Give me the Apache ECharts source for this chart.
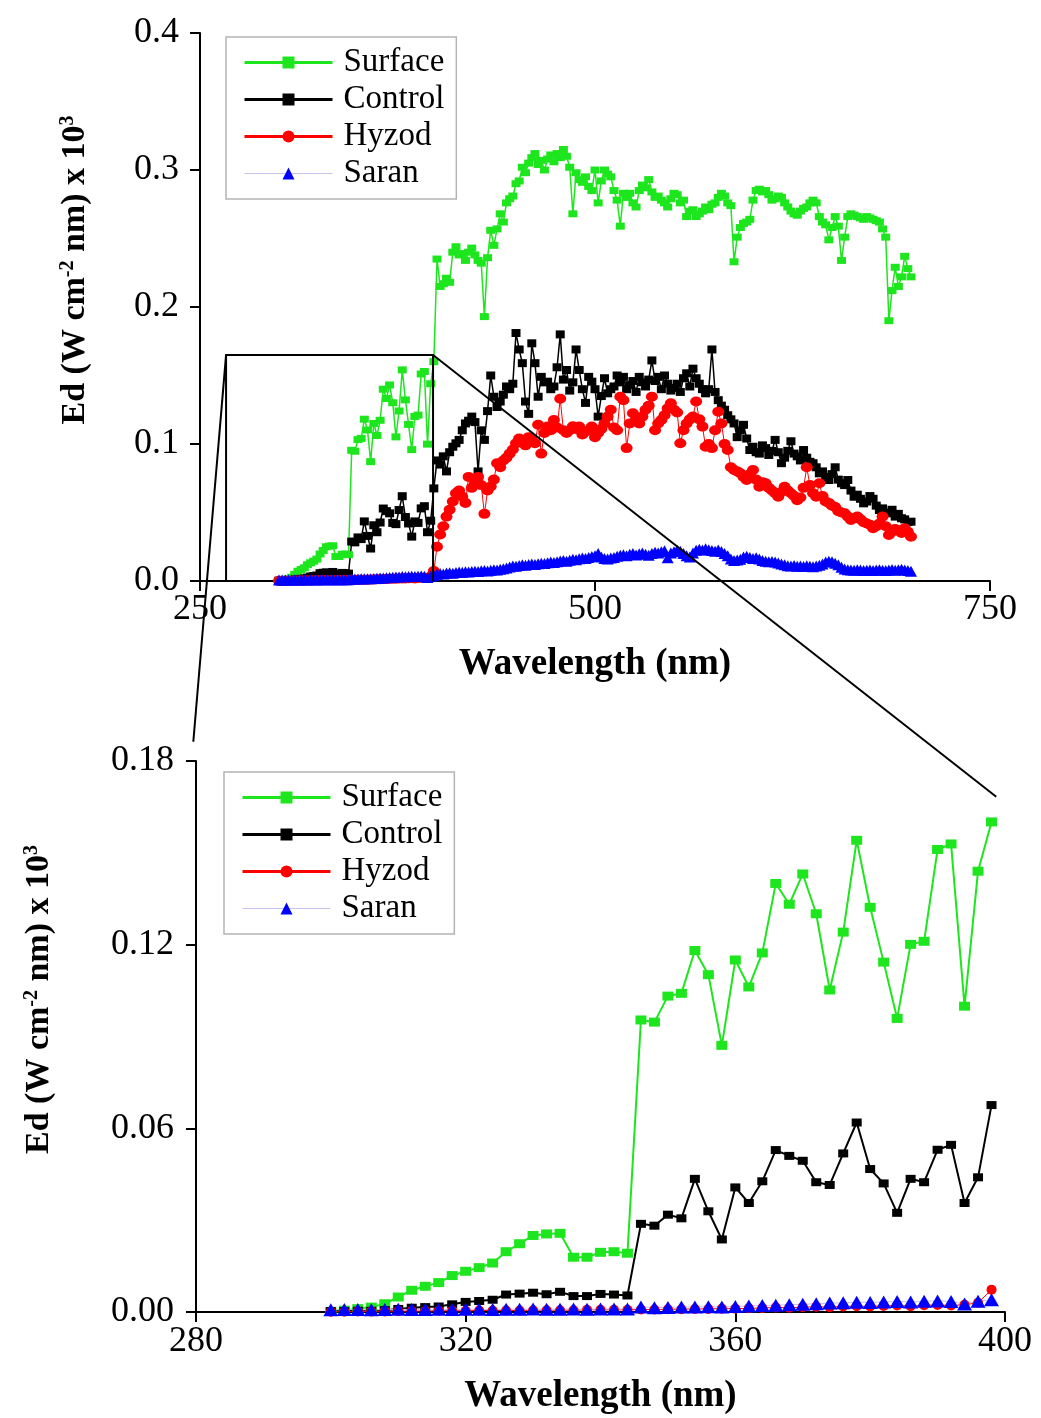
<!DOCTYPE html>
<html><head><meta charset="utf-8">
<script src="https://cdn.jsdelivr.net/npm/echarts@6/dist/echarts.min.js"></script>
<style>html,body{margin:0;padding:0;background:#fff}#c{width:1041px;height:1418px}</style>
</head><body><div id="c"></div>
<script>
// ---------------- DATA ----------------
const wavelength = [
300,302,304,306,308,310,312,314,316,318,320,322,324,326,328,330,332,334,336,338,
340,342,344,346,348,350,352,354,356,358,360,362,364,366,368,370,372,374,376,378,
380,382,384,386,388,390,392,394,396,398,400,402,404,406,408,410,412,414,416,418,
420,422,424,426,428,430,432,434,436,438,440,442,444,446,448,450,452,454,456,458,
460,462,464,466,468,470,472,474,476,478,480,482,484,486,488,490,492,494,496,498,
500,502,504,506,508,510,512,514,516,518,520,522,524,526,528,530,532,534,536,538,
540,542,544,546,548,550,552,554,556,558,560,562,564,566,568,570,572,574,576,578,
580,582,584,586,588,590,592,594,596,598,600,602,604,606,608,610,612,614,616,618,
620,622,624,626,628,630,632,634,636,638,640,642,644,646,648,650,652,654,656,658,
660,662,664,666,668,670,672,674,676,678,680,682,684,686,688,690,692,694,696,698,700];

const surface = [
0.0002,0.0006,0.0011,0.0016,0.0027,0.0049,0.0071,0.0084,0.0096,0.0119,
0.0133,0.0145,0.0160,0.0197,0.0223,0.0250,0.0255,0.0257,0.0179,0.0179,
0.0195,0.0197,0.0192,0.0954,0.0947,0.1032,0.1041,0.1181,0.1102,0.0871,
0.1150,0.1062,0.1173,0.1400,0.1332,0.1431,0.1301,0.1052,0.1241,0.1541,
0.1322,0.1143,0.0959,0.1201,0.1211,0.1511,0.1529,0.0999,0.1440,0.1601,
0.235,0.215,0.217,0.221,0.218,0.240,0.244,0.238,0.239,0.234,
0.240,0.243,0.238,0.234,0.232,0.193,0.236,0.256,0.245,0.257,
0.268,0.262,0.276,0.279,0.281,0.290,0.292,0.302,0.298,0.305,
0.309,0.312,0.304,0.307,0.300,0.308,0.311,0.306,0.312,0.309,
0.315,0.310,0.302,0.268,0.298,0.293,0.291,0.295,0.288,0.285,
0.300,0.276,0.292,0.300,0.297,0.295,0.285,0.278,0.259,0.283,
0.280,0.283,0.276,0.273,0.285,0.289,0.287,0.293,0.284,0.280,
0.281,0.278,0.276,0.273,0.279,0.283,0.282,0.276,0.278,0.266,
0.270,0.271,0.266,0.268,0.270,0.273,0.271,0.275,0.276,0.280,
0.283,0.281,0.276,0.274,0.233,0.251,0.258,0.261,0.262,0.264,
0.278,0.285,0.286,0.284,0.285,0.282,0.278,0.279,0.281,0.280,
0.276,0.273,0.270,0.268,0.267,0.270,0.272,0.273,0.276,0.278,
0.276,0.266,0.262,0.260,0.249,0.258,0.266,0.259,0.234,0.251,
0.266,0.268,0.267,0.266,0.265,0.264,0.266,0.265,0.264,0.263,
0.262,0.257,0.251,0.190,0.212,0.229,0.215,0.222,0.237,0.228,
0.222];

const control = [
0.0003,0.0003,0.0004,0.0004,0.0006,0.0010,0.0014,0.0016,0.0018,0.0025,
0.0033,0.0036,0.0040,0.0057,0.0060,0.0063,0.0058,0.0066,0.0052,0.0052,
0.0059,0.0057,0.0054,0.0288,0.0282,0.0318,0.0306,0.0435,0.0329,0.0237,
0.0407,0.0356,0.0427,0.0529,0.0510,0.0494,0.0424,0.0415,0.0518,0.0619,
0.0467,0.0420,0.0324,0.0435,0.0424,0.0530,0.0546,0.0356,0.0440,0.0676,
0.088,0.085,0.091,0.080,0.094,0.098,0.1005,0.103,0.110,0.115,
0.117,0.120,0.116,0.080,0.110,0.103,0.124,0.150,0.1345,0.127,
0.131,0.136,0.142,0.140,0.144,0.181,0.169,0.159,0.131,0.122,
0.1735,0.159,0.1345,0.149,0.145,0.1455,0.140,0.142,0.156,0.180,
0.147,0.154,0.139,0.145,0.169,0.154,0.140,0.130,0.149,0.1455,
0.140,0.120,0.135,0.148,0.137,0.140,0.142,0.150,0.145,0.149,
0.140,0.143,0.146,0.138,0.149,0.145,0.142,0.147,0.161,0.146,
0.149,0.140,0.150,0.144,0.139,0.141,0.144,0.138,0.148,0.1516,
0.142,0.155,0.148,0.144,0.140,0.137,0.140,0.169,0.138,0.132,
0.128,0.125,0.121,0.118,0.115,0.105,0.110,0.114,0.104,0.0956,
0.098,0.094,0.093,0.099,0.097,0.092,0.095,0.103,0.094,0.086,
0.090,0.095,0.102,0.093,0.091,0.088,0.0956,0.090,0.087,0.086,
0.083,0.0786,0.080,0.076,0.0737,0.078,0.083,0.074,0.0713,0.070,
0.0737,0.066,0.0615,0.063,0.060,0.0567,0.058,0.062,0.060,0.055,
0.0518,0.053,0.050,0.0494,0.052,0.047,0.049,0.0458,0.045,0.043,
0.0433];

const hyzod = [
0.0001,0.0001,0.0002,0.0002,0.0002,0.0003,0.0003,0.0003,0.0004,0.0004,
0.0004,0.0005,0.0005,0.0005,0.0005,0.0006,0.0006,0.0006,0.0006,0.0007,
0.0007,0.0007,0.0007,0.0008,0.0008,0.0009,0.0009,0.0010,0.0010,0.0011,
0.0011,0.0012,0.0013,0.0015,0.0014,0.0016,0.0017,0.0016,0.0018,0.0019,
0.0018,0.0020,0.0021,0.0019,0.0022,0.0023,0.0021,0.0024,0.0030,0.0073,
0.025,0.034,0.040,0.047,0.052,0.058,0.064,0.066,0.0615,0.057,
0.076,0.068,0.071,0.076,0.070,0.049,0.066,0.069,0.074,0.086,
0.083,0.088,0.090,0.093,0.096,0.1005,0.104,0.101,0.099,0.105,
0.103,0.1005,0.114,0.093,0.108,0.1127,0.110,0.1175,0.112,0.133,
0.110,0.108,0.110,0.113,0.111,0.1127,0.107,0.109,0.110,0.1127,
0.105,0.108,0.111,0.115,0.120,0.125,0.112,0.110,0.1345,0.132,
0.097,0.115,0.1224,0.118,0.115,0.120,0.125,0.128,0.1345,0.110,
0.115,0.1175,0.121,0.126,0.1297,0.125,0.123,0.1005,0.110,0.115,
0.118,0.120,0.131,0.118,0.1127,0.098,0.100,0.097,0.110,0.1236,
0.115,0.100,0.0956,0.083,0.081,0.080,0.0786,0.076,0.0737,0.078,
0.081,0.074,0.0688,0.072,0.0713,0.068,0.066,0.064,0.0615,0.065,
0.0688,0.066,0.064,0.062,0.059,0.061,0.068,0.083,0.070,0.064,
0.0615,0.0713,0.062,0.058,0.057,0.055,0.054,0.051,0.050,0.0494,
0.047,0.0445,0.046,0.047,0.045,0.043,0.042,0.041,0.0385,0.040,
0.042,0.047,0.040,0.0336,0.036,0.038,0.037,0.035,0.0385,0.036,
0.0323];

const saran = [
0.0007,0.0008,0.0008,0.0007,0.0008,0.0009,0.0008,0.0008,0.0009,0.0008,
0.0009,0.0009,0.0008,0.0009,0.0009,0.0010,0.0009,0.0009,0.0010,0.0009,
0.0010,0.0010,0.0010,0.0016,0.0014,0.0015,0.0016,0.0016,0.0017,0.0016,
0.0018,0.0020,0.0021,0.0022,0.0024,0.0025,0.0027,0.0029,0.0030,0.0032,
0.0031,0.0033,0.0034,0.0033,0.0035,0.0036,0.0034,0.0026,0.0035,0.0040,
0.0050,0.0055,0.0052,0.0058,0.0060,0.0057,0.0062,0.0065,0.0063,0.0068,
0.0066,0.0070,0.0072,0.0069,0.0074,0.0076,0.0073,0.0079,0.0082,0.0080,
0.0086,0.0090,0.0095,0.0102,0.0110,0.0108,0.0113,0.0118,0.0115,0.0120,
0.0124,0.0121,0.0126,0.0130,0.0127,0.0133,0.0138,0.0135,0.0141,0.0146,
0.0150,0.0145,0.0152,0.0158,0.0155,0.0162,0.0168,0.0165,0.0172,0.0178,
0.0185,0.0200,0.0176,0.0165,0.0160,0.0168,0.0172,0.0180,0.0188,0.0192,
0.0185,0.0195,0.0200,0.0190,0.0198,0.0205,0.0196,0.0188,0.0200,0.0210,
0.0205,0.0214,0.0220,0.0170,0.0205,0.0214,0.0225,0.0218,0.0200,0.0185,
0.0175,0.0205,0.0225,0.0232,0.0226,0.0236,0.0228,0.0222,0.0218,0.0226,
0.0215,0.0200,0.0185,0.0160,0.0150,0.0153,0.0158,0.0175,0.0180,0.0172,
0.0165,0.0170,0.0160,0.0150,0.0145,0.0140,0.0142,0.0138,0.0132,0.0125,
0.0118,0.0112,0.0110,0.0114,0.0108,0.0110,0.0105,0.0112,0.0108,0.0104,
0.0110,0.0115,0.0125,0.0138,0.0145,0.0140,0.0130,0.0118,0.0100,0.0088,
0.0082,0.0080,0.0078,0.0082,0.0080,0.0076,0.0078,0.0081,0.0077,0.0080,
0.0083,0.0079,0.0076,0.0080,0.0084,0.0078,0.0082,0.0086,0.0080,0.0077,
0.0072];

const seriesNames = ['Surface', 'Control', 'Hyzod', 'Saran'];
const seriesValues = [surface, control, hyzod, saran];
const zoomMaxWavelength = 400;
// zoom annotation, in top-panel data units, and link end points in bottom-panel units
const zoomBox = [266.5, 0, 397.5, 0.165];
const zoomLinkEnds = [[279.6, 0.1863], [398.7, 0.1683]];

// ---------------- STYLE ----------------
const FONT = 'Liberation Serif';
const colors = ['#1ee61e', '#000000', '#ff0000', '#0000ff'];
const lineColors = ['#1ee61e', '#000000', '#ff0000', '#c4c4ec'];
const lineWidths = [1.5, 1.5, 1, 1];
const symbols = ['rect', 'rect', 'circle', 'triangle'];
const symTop = [[9, 7], [9, 8], [12, 10], [12, 11]];
const symBottom = [[11, 9], [10, 8], [10, 10], [15, 13]];

function pairs(values, maxX) {
  const out = [];
  wavelength.forEach((x, i) => { if (maxX == null || x < maxX) out.push([x, values[i]]); });
  return out;
}

function axisCommon() {
  return {
    type: 'value',
    axisLine: { show: true, onZero: false, lineStyle: { color: '#000', width: 2 } },
    axisTick: { show: true, inside: false, length: 10, lineStyle: { color: '#000', width: 2 } },
    splitLine: { show: false },
    axisLabel: { fontFamily: FONT, fontSize: 36, color: '#000' },
    nameTextStyle: { fontFamily: FONT, fontWeight: 'bold', fontSize: 37, color: '#000' }
  };
}

const yNameRich = {
  sup: { fontFamily: FONT, fontWeight: 'bold', fontSize: 20, color: '#000', verticalAlign: 'top', lineHeight: 34 }
};
const yName = 'Ed (W cm{sup|-2} nm) x 10{sup|3}';

function legendCfg(left, top) {
  return {
    orient: 'vertical', left: left, top: top,
    padding: [8, 12, 8, 17],
    itemWidth: 88, itemHeight: 15, itemGap: 2,
    borderColor: '#b4b4b4', borderWidth: 1.5,
    textStyle: { fontFamily: FONT, fontSize: 33, color: '#000', lineHeight: 35, padding: [0, 0, 0, 6] },
    lineStyle: { width: 3 },
    data: seriesNames.map(n => n === 'Saran' ? { name: n, lineStyle: { width: 1 } } : { name: n })
  };
}

const series = [];
seriesNames.forEach((name, i) => {
  series.push({
    name: name, type: 'line', xAxisIndex: 0, yAxisIndex: 0,
    data: pairs(seriesValues[i]),
    symbol: symbols[i], symbolSize: symTop[i], showAllSymbol: true,
    itemStyle: { color: colors[i] },
    lineStyle: { color: lineColors[i], width: lineWidths[i] },
    animation: false
  });
});
seriesNames.forEach((name, i) => {
  series.push({
    name: name, type: 'line', xAxisIndex: 1, yAxisIndex: 1,
    data: pairs(seriesValues[i], zoomMaxWavelength),
    symbol: symbols[i], symbolSize: symBottom[i], showAllSymbol: true,
    itemStyle: { color: colors[i] },
    lineStyle: { color: lineColors[i], width: i < 2 ? 2 : 1 },
    animation: false
  });
});

const chart = echarts.init(document.getElementById('c'), null, { renderer: 'canvas' });
chart.setOption({
  backgroundColor: '#ffffff',
  animation: false,
  grid: [
    { left: 200, top: 33, width: 790, height: 548 },
    { left: 196, top: 761, width: 809, height: 551 }
  ],
  legend: [legendCfg(226, 37), legendCfg(224, 772)],
  xAxis: [
    Object.assign(axisCommon(), {
      gridIndex: 0, min: 250, max: 750, interval: 250,
      name: 'Wavelength (nm)', nameLocation: 'middle', nameGap: 65,
      axisLabel: { fontFamily: FONT, fontSize: 36, color: '#000', margin: 11 }
    }),
    Object.assign(axisCommon(), {
      gridIndex: 1, min: 280, max: 400, interval: 40,
      name: 'Wavelength (nm)', nameLocation: 'middle', nameGap: 66,
      axisLabel: { fontFamily: FONT, fontSize: 36, color: '#000', margin: 12 }
    })
  ],
  yAxis: [
    Object.assign(axisCommon(), {
      gridIndex: 0, min: 0, max: 0.4, interval: 0.1,
      name: yName, nameLocation: 'middle', nameGap: 108,
      nameTextStyle: { fontFamily: FONT, fontWeight: 'bold', fontSize: 34, color: '#000', padding: [0, 0, 0, 74], rich: yNameRich },
      axisLabel: { fontFamily: FONT, fontSize: 36, color: '#000', margin: 21, formatter: v => v.toFixed(1) }
    }),
    Object.assign(axisCommon(), {
      gridIndex: 1, min: 0, max: 0.18, interval: 0.06,
      name: yName, nameLocation: 'middle', nameGap: 140,
      nameTextStyle: { fontFamily: FONT, fontWeight: 'bold', fontSize: 34, color: '#000', padding: [0, 0, 0, 74], rich: yNameRich },
      axisLabel: { fontFamily: FONT, fontSize: 36, color: '#000', margin: 22, formatter: v => v.toFixed(2) }
    })
  ],
  series: series
});

// zoom annotation: box in top panel and links to the bottom panel
const px = (g, x, y) => chart.convertToPixel({ gridIndex: g }, [x, y]);
const bl = px(0, zoomBox[0], zoomBox[1]);
const tl = px(0, zoomBox[0], zoomBox[3]);
const tr = px(0, zoomBox[2], zoomBox[3]);
const br = px(0, zoomBox[2], zoomBox[1]);
const e1 = px(1, zoomLinkEnds[0][0], zoomLinkEnds[0][1]);
const e2 = px(1, zoomLinkEnds[1][0], zoomLinkEnds[1][1]);
const ls = { stroke: '#000', lineWidth: 2, fill: null };
chart.setOption({
  graphic: [
    { type: 'polyline', shape: { points: [bl, tl, tr, br] }, style: ls, z: 50 },
    { type: 'line', shape: { x1: tl[0], y1: tl[1], x2: e1[0], y2: e1[1] }, style: ls, z: 50 },
    { type: 'line', shape: { x1: tr[0], y1: tr[1], x2: e2[0], y2: e2[1] }, style: ls, z: 50 }
  ]
});
</script>
</body></html>
